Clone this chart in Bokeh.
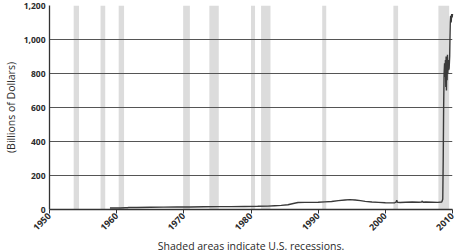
import math
from bokeh.plotting import figure
from bokeh.models import Range1d, FixedTicker, NumeralTickFormatter, Title, ColumnDataSource
from bokeh.embed import file_html
from bokeh.resources import INLINE

# Data (Billions of Dollars)
years = [1959.0, 1959.8, 1960.5, 1961.3, 1961.6, 1961.8, 1963.0, 1965.0, 1967.0, 1969.0,
         1971.0, 1973.0, 1975.0, 1977.0, 1979.0, 1981.0, 1982.5, 1983.5, 1984.5, 1985.5,
         1986.3, 1987.0, 1988.0, 1989.0, 1990.0, 1991.0, 1992.0, 1993.0, 1994.0, 1994.7,
         1995.5, 1996.3, 1997.0, 1998.0, 1999.0, 2000.0, 2000.8, 2001.4, 2001.6, 2001.7,
         2001.8, 2002.2, 2003.0, 2004.0, 2005.0, 2005.4, 2005.5, 2005.6, 2006.0, 2007.0,
         2007.8, 2008.4, 2008.55, 2008.62, 2008.68, 2008.75, 2008.82, 2008.88, 2008.95, 2009.0,
         2009.05, 2009.1, 2009.15, 2009.2, 2009.25, 2009.3, 2009.35, 2009.42, 2009.5, 2009.58,
         2009.62, 2009.67, 2009.72, 2009.8, 2009.88, 2009.95, 2010.0]
reserves = [9, 9, 9, 10, 10, 12, 12, 13, 14, 15,
            15, 16, 17, 17, 18, 19, 20, 22, 24, 28,
            35, 41, 42, 42, 43, 45, 47, 52, 56, 58,
            56, 52, 48, 44, 42, 40, 39, 40, 43, 55,
            42, 41, 43, 44, 43, 44, 50, 43, 44, 43,
            42, 44, 60, 300, 600, 800, 860, 780, 880, 720,
            900, 700, 880, 760, 910, 800, 880, 820, 830, 900,
            1000, 1100, 1140, 1100, 1150, 1130, 1150]

# U.S. recessions (start, end)
rec_start = [1953.6, 1957.6, 1960.3, 1969.9, 1973.8, 1980.0, 1981.5, 1990.6, 2001.2, 2007.9]
rec_end = [1954.4, 1958.3, 1961.1, 1970.9, 1975.2, 1980.6, 1982.9, 1991.2, 2001.9, 2009.5]

x_ticks = [1950, 1960, 1970, 1980, 1990, 2000, 2010]
y_ticks = [0, 200, 400, 600, 800, 1000, 1200]

p = figure(width=457, height=252, output_backend="svg", toolbar_location=None,
           x_range=Range1d(1950, 2010), y_range=Range1d(0, 1200),
           min_border_left=10, min_border_right=5, min_border_top=5, min_border_bottom=10)
p.outline_line_color = None
p.background_fill_color = "white"
p.border_fill_color = "white"

rec = p.quad(left=rec_start, right=rec_end, bottom=0, top=1200,
             fill_color="#dcdcdc", line_color=None)
rec.level = "underlay"

src = ColumnDataSource(dict(x=years, y=reserves))
ln = p.line("x", "y", source=src, line_color="#3a3a3a", line_width=1.4)
ln.level = "annotation"

p.xgrid.visible = False
p.ygrid.ticker = FixedTicker(ticks=y_ticks)
p.ygrid.grid_line_color = "#555555"
p.ygrid.grid_line_width = 1
p.ygrid.level = "glyph"

xa = p.xaxis[0]
xa.ticker = FixedTicker(ticks=x_ticks)
xa.major_label_orientation = math.pi / 4
xa.major_tick_out = 4
xa.major_tick_in = 0
xa.minor_tick_line_color = None
xa.minor_tick_out = 0
xa.axis_line_color = "#333333"
xa.axis_line_width = 1.3
xa.major_tick_line_color = "#333333"
xa.major_label_text_font = "Open Sans"
xa.major_label_text_font_style = "bold"
xa.major_label_text_font_size = "9px"
xa.major_label_text_color = "#2a2a2a"
xa.major_label_standoff = 1

ya = p.yaxis[0]
ya.ticker = FixedTicker(ticks=y_ticks)
ya.formatter = NumeralTickFormatter(format="0,0")
ya.major_tick_line_color = None
ya.major_tick_out = 0
ya.major_tick_in = 0
ya.minor_tick_line_color = None
ya.minor_tick_out = 0
ya.axis_line_color = "#333333"
ya.axis_line_width = 1.3
ya.major_label_text_font = "Open Sans"
ya.major_label_text_font_style = "bold"
ya.major_label_text_font_size = "8.5px"
ya.major_label_text_color = "#2a2a2a"
ya.major_label_standoff = 4
ya.axis_label = "(Billions of Dollars)"
ya.axis_label_text_font = "Open Sans"
ya.axis_label_text_font_style = "normal"
ya.axis_label_text_font_size = "10.5px"
ya.axis_label_text_color = "#2a2a2a"
ya.axis_label_standoff = 3

t = Title(text="Shaded areas indicate U.S. recessions.", align="center",
          text_font="Open Sans", text_font_size="10.5px", text_font_style="normal",
          text_color="#2a2a2a", offset=0, standoff=0)
p.add_layout(t, "below")

open("out.html", "w").write(file_html(p, INLINE))
